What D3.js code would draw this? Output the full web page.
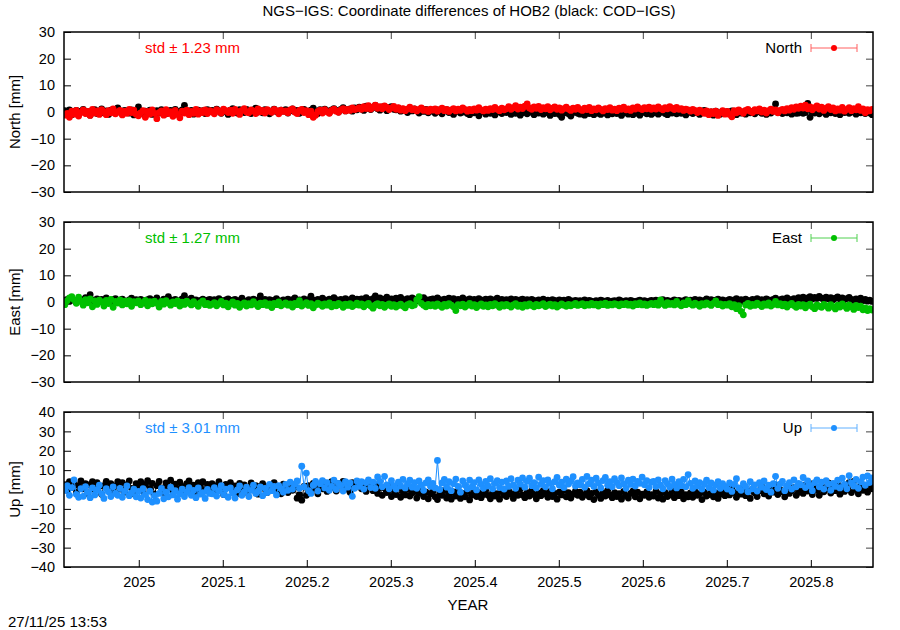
<!DOCTYPE html>
<html><head><meta charset="utf-8">
<script src="https://cdn.jsdelivr.net/npm/d3@7"></script>
<style>body{margin:0;background:#fff}svg{font-family:"Liberation Sans",Arial,sans-serif}</style>
</head><body><svg id="c" width="900" height="630"></svg>
<script>
// ---- data (daily solutions) ----
const startYear = 2024.912;
const dayStep = 1 / 365.25;
const xTicks = [2025, 2025.1, 2025.2, 2025.3, 2025.4, 2025.5, 2025.6, 2025.7, 2025.8];
const neTicks = [-30, -20, -10, 0, 10, 20, 30];
const upTicks = [-40, -30, -20, -10, 0, 10, 20, 30, 40];
const seriesNames = ["North", "East", "Up"];
const stdLabels = ["std \u00b1 1.23 mm", "std \u00b1 1.27 mm", "std \u00b1 3.01 mm"];
const yLabels = ["North [mm]", "East [mm]", "Up [mm]"];

const northCOD = [
0.5,-0.5,0.8,-1.0,0.2,0.6,-0.8,0.3, 1.0,-0.4,0.1,-1.2,0.5,0.9,-0.6,0.0, 1.2,-0.3,0.4,-0.9,0.7,0.2,-0.5,1.5, 0.3,-0.7,0.6,0.0,-0.4,0.8,-1.1,0.2,
1.9,0.4,-0.6,0.3,-0.2,0.7,-0.9,0.1, 0.5,-0.4,0.9,0.0,-0.7,0.3,0.6,-0.3, 1.0,0.2,-0.5,0.8,2.5,0.4,-0.2,0.6, -0.8,0.3,0.7,-0.1,0.5,-0.6,0.9,0.2,
0.6,-0.3,1.1,0.4,-0.5,0.8,0.2,-0.9, 0.7,1.3,0.1,-0.4,0.9,0.5,-0.2,1.0, 0.3,-0.6,0.8,1.4,0.0,0.5,-0.3,0.9, 0.6,-0.7,0.4,1.1,0.2,-0.2,0.7,0.3,
0.9,-0.4,0.5,1.2,0.1,0.6,-0.5,0.8, 1.0,0.3,-0.2,0.7,1.4,0.4,-0.6,0.9, 0.2,1.1,0.5,-0.3,0.8,1.3,0.6,0.0, 1.0,1.6,0.4,0.9,1.2,0.3,1.5,0.8,
1.8,1.1,0.6,2.2,1.4,0.9,1.7,2.5, 1.2,0.7,1.9,1.3,0.5,1.6,2.0,1.0, 0.8,1.4,0.3,1.1,0.6,-0.2,0.9,0.4, 1.2,0.5,-0.4,0.7,0.2,1.0,-0.3,0.6,
0.3,-0.5,0.8,0.1,-0.7,0.4,0.9,-0.2, 0.5,-0.9,0.2,0.6,-0.4,0.0,0.8,-0.6, -1.0,0.3,-0.3,0.5,-1.4,0.1,0.4,-0.8, 0.2,-0.5,0.7,-1.1,0.0,0.3,-0.6,0.5,
-0.2,0.4,-0.9,0.1,-0.5,0.6,-1.2,-0.3, 0.2,-0.7,0.5,-0.1,-1.0,0.3,-0.4,0.0, -0.8,0.4,-0.3,-1.3,0.1,-0.6,0.2,-0.9, -2.0,-0.4,0.3,-0.7,-1.5,-0.2,0.1,-0.5,
-0.8,-0.1,-1.2,0.2,-0.6,-0.3,-1.0,0.1, -0.5,-0.9,0.0,-0.4,-1.1,0.3,-0.7,-0.2, -0.6,0.2,-1.3,-0.4,0.1,-0.8,-0.3,-1.0, 0.0,-0.5,-1.2,-0.2,0.3,-0.7,-0.4,-0.9,
-0.3,0.2,-0.8,-0.1,0.4,-0.6,-1.0,0.0, -0.4,0.3,-0.7,0.1,-0.5,0.5,-1.1,-0.2, 0.2,-0.6,0.4,-0.3,-0.9,0.1,0.6,-0.4, -0.7,0.0,-1.2,0.3,-0.2,-0.8,0.2,-0.5,
0.1,-0.6,0.4,-0.2,-1.0,0.3,-0.4,0.0, -0.8,0.5,-0.3,0.2,-0.7,0.4,0.1,-0.5, 0.3,-0.9,0.0,-0.4,0.4,3.0,-0.2,0.2, -0.6,0.1,-0.3,0.5,-0.8,0.0,-0.5,-0.4,
0.2,-0.5,-0.2,3.2,-2.0,0.3,-0.4,0.6, -0.7,0.0,0.4,-0.9,0.2,-0.3,0.5,-0.6, 0.1,-1.0,0.3,-0.2,0.6,-0.5,0.0,0.4, -0.8,0.2,-0.3,0.5,-0.6,0.1,-0.4,-1.0];

const northNGS = [
-1.2,-0.5,-2.0,0.3,-0.8,0.6,-1.5,-0.2, 0.8,-0.6,0.2,-1.3,1.0,-0.4,0.4,-0.9, 0.9,0.1,-1.0,0.5,-0.3,1.2,-0.7,0.0, 0.6,-1.1,0.3,-0.5,1.0,-0.2,0.7,-0.8,
-1.4,-0.3,0.5,-2.0,0.2,-0.8,0.8,-0.5, -2.5,-0.2,0.4,-1.2,0.9,-0.6,0.1,-1.6, 0.6,-0.9,-2.2,0.3,-0.4,0.7,-1.0,0.2, -0.5,1.0,-0.8,0.4,-0.2,0.8,-0.6,0.5,
0.1,-0.7,0.9,0.3,-0.4,1.1,0.5,-0.2, 0.7,-0.5,1.0,0.2,-0.9,0.6,1.3,0.0, -0.3,0.8,0.4,-0.6,1.2,0.1,0.6,-0.4, 0.9,0.3,-0.1,1.0,0.5,-0.7,0.7,0.2,
0.4,-0.3,0.8,1.2,0.0,-0.6,0.6,1.0, -0.2,0.5,-1.0,0.3,-2.0,-1.2,0.2,0.7, -0.4,0.9,0.1,-0.5,0.6,1.1,0.3,-0.1, 0.8,1.3,0.4,1.0,0.6,1.5,0.9,1.2,
1.6,1.0,2.0,1.3,2.4,1.1,1.8,2.6, 1.4,2.0,1.2,2.3,1.7,0.9,1.5,2.1, 1.0,1.6,0.7,1.3,0.5,1.1,1.8,0.8, 1.2,0.4,1.0,1.5,0.6,0.9,0.2,1.1,
0.7,1.2,0.3,0.9,1.4,0.5,1.0,0.2, 0.8,1.3,0.4,1.1,0.6,1.5,0.9,0.3, 1.0,0.5,1.2,0.7,1.6,0.8,0.4,1.1, 0.6,1.3,0.9,1.7,1.0,0.5,1.4,0.8,
1.2,2.0,1.0,1.6,2.4,1.1,1.8,1.3, 2.2,3.0,1.5,1.0,1.9,1.4,2.1,0.9, 1.6,1.2,2.0,0.8,1.4,1.9,1.0,1.5, 0.7,1.3,1.8,1.1,0.6,1.4,1.0,1.7,
1.0,0.6,1.4,0.9,1.7,0.5,1.2,0.8, 1.5,1.0,0.4,1.3,0.9,1.6,0.7,1.1, 0.5,1.4,1.0,1.8,0.8,1.2,0.6,1.5, 1.1,1.9,1.3,0.9,1.6,1.2,1.8,1.0,
1.5,1.1,1.9,1.3,0.8,1.6,1.2,2.0, 1.4,0.9,1.7,1.0,1.3,0.6,1.1,0.8, 0.3,1.0,0.5,-0.2,0.7,0.2,-0.5,0.4, -1.0,0.1,-0.6,0.3,-1.3,-0.2,0.5,-0.8,
0.2,-0.9,-1.8,0.5,-0.3,0.8,0.1,-0.5, 0.6,1.0,0.3,-0.2,0.9,0.4,1.2,0.0, 0.7,-0.4,0.5,1.1,0.2,0.8,-0.3,0.6, 1.0,0.4,1.3,0.7,1.6,1.0,1.9,1.4,
2.2,1.5,2.6,1.2,1.9,0.8,1.6,2.3, 1.1,1.8,0.6,1.4,2.0,0.9,1.5,0.4, 1.2,0.7,1.7,0.3,1.0,1.6,0.5,1.3, 0.8,2.0,0.6,1.2,-0.3,0.9,0.4,1.0];

const eastCOD = [
0.5,1.0,0.2,1.4,0.7,-0.2,1.1,0.4, 0.9,1.6,0.3,2.8,0.8,0.1,1.2,0.5, 1.0,0.3,1.5,0.6,-0.3,0.9,1.3,0.2, 0.7,1.1,0.4,-0.1,0.8,1.4,0.5,0.9,
0.3,1.0,0.6,-0.4,0.9,1.3,0.2,0.7, 1.5,0.4,0.0,1.1,0.6,2.0,0.8,0.3, 1.0,-0.2,0.5,1.2,2.4,0.1,0.9,1.4, 0.4,0.8,-0.3,0.6,1.1,0.2,0.7,1.0,
0.5,0.9,0.1,1.3,0.6,-0.5,0.8,1.2, 0.3,0.7,1.0,0.0,0.6,1.4,0.4,-0.2, 0.9,0.5,1.1,0.2,0.8,2.3,0.6,1.0, 0.3,0.9,0.1,0.7,1.3,0.5,0.0,0.8,
0.6,1.1,0.2,0.9,1.5,0.4,0.8,0.1, 1.2,0.5,0.9,2.2,0.7,0.3,1.0,0.6, 1.4,0.8,0.2,1.1,0.5,1.6,0.9,0.4, 1.0,0.6,1.3,0.3,0.9,1.5,0.7,1.1,
0.8,1.2,0.5,1.6,1.0,0.4,1.3,2.3, 0.9,1.5,0.6,1.1,1.8,0.7,1.2,0.5, 1.4,0.9,1.7,1.0,0.6,1.3,0.8,1.5, 1.1,0.5,1.2,0.8,1.6,0.9,0.4,1.0,
1.2,0.7,1.5,0.9,0.4,1.1,0.6,1.4, 0.8,1.3,0.5,1.0,0.7,1.5,0.9,0.3, 1.2,0.6,1.0,0.4,1.3,0.8,0.5,1.1, 0.7,1.2,0.3,0.9,1.4,0.6,1.0,0.5,
0.9,0.4,1.2,0.6,1.0,0.2,0.8,1.1, 0.5,0.9,0.3,1.0,0.6,0.1,0.8,0.4, 1.1,0.5,0.7,0.2,0.9,0.6,0.0,0.8, 0.4,0.7,0.3,1.0,0.5,-0.1,0.6,0.3,
0.5,0.2,0.8,0.0,0.6,0.3,-0.2,0.5, 0.1,0.7,0.4,0.0,0.6,-0.1,0.3,0.5, 0.2,0.8,0.4,-0.2,0.5,0.1,0.6,0.3, 0.0,0.4,0.7,0.2,0.5,-0.1,0.3,0.6,
0.3,0.7,0.1,0.5,0.9,0.2,0.6,-0.1, 0.4,0.8,0.3,0.6,0.0,0.5,0.9,0.2, 0.7,0.3,1.0,0.4,0.8,0.1,0.6,1.2, 0.5,0.9,0.3,0.7,1.1,0.4,0.8,0.2,
0.6,1.0,0.3,0.8,1.3,0.5,0.9,0.2, 1.1,0.6,0.4,1.0,0.7,1.3,0.5,0.9, 0.3,1.2,0.8,0.5,1.0,1.4,0.6,0.9, 1.2,0.7,1.5,1.0,0.6,1.3,0.9,1.6,
1.2,1.8,0.9,1.5,2.0,1.1,1.7,1.3, 2.1,1.4,1.0,1.8,1.2,1.6,0.8,1.4, 1.9,1.1,1.5,0.9,1.3,1.7,1.0,0.6, 1.2,0.8,1.4,0.5,1.0,0.3,0.7,0.2];

const eastNGS = [
-1.0,0.5,1.5,2.0,0.8,-0.5,1.8,0.3, -1.2,0.9,-0.3,1.2,-1.8,0.4,-0.9,0.7, 0.0,-1.5,0.6,-0.6,1.0,-2.0,0.2,-0.4, 0.8,-1.1,0.3,-0.7,0.5,-1.6,0.1,-0.3,
0.4,-1.0,-0.2,0.6,-1.4,0.1,-0.7,0.3, -0.5,-1.9,0.2,-0.8,0.5,-0.3,-1.2,0.0, -0.6,0.4,-1.5,-0.1,-0.9,0.3,-0.4,-1.1, 0.1,-0.7,-1.6,-0.2,0.4,-1.0,-0.5,-1.3,
-0.8,-0.2,-1.4,-0.6,0.2,-1.1,-0.4,-1.8, -0.7,0.0,-1.2,-0.5,-2.0,-0.9,-0.3,-1.5, -0.6,-1.1,0.1,-0.8,-1.7,-0.4,-1.0,-0.2, -1.3,-0.7,-2.1,-0.5,-1.0,0.0,-1.4,-0.8,
-0.3,-1.2,-0.7,-1.9,-0.5,-1.0,0.5,-1.5, -0.8,-0.2,-1.3,-0.6,-2.2,-1.1,-0.4,-0.9, -1.6,-0.7,-1.2,-0.3,-1.8,-0.9,-1.4,-0.5, -1.0,-2.0,-0.8,-1.3,-0.6,-1.7,-1.1,-0.4,
-1.2,-0.7,-1.8,-1.0,-0.5,-1.5,-2.3,-1.1, -0.6,-1.4,-0.9,-2.0,-1.2,-0.7,-1.6,-1.0, -1.9,-1.3,-0.8,-1.5,-2.2,-1.0,-0.6,-1.4, -1.1,0.8,2.0,-0.5,-1.2,-1.8,-0.9,-1.4,
-1.0,-1.6,-0.7,-1.3,-2.0,-0.9,-1.5,-0.6, -1.2,-1.8,-3.2,-1.0,-1.4,-0.8,-1.9,-1.2, -0.5,-1.5,-1.0,-2.1,-1.3,-0.7,-1.6,-1.1, -1.8,-0.9,-1.4,-0.6,-1.2,-2.0,-1.0,-1.5,
-0.9,-1.4,-1.9,-1.1,-0.6,-1.6,-1.2,-2.0, -1.0,-1.5,-0.7,-1.3,-1.8,-0.9,-1.4,-1.1, -0.6,-1.7,-1.2,-0.8,-1.5,-1.0,-1.9,-1.3, -0.7,-1.2,-1.6,-0.9,-1.4,-1.0,-0.5,-1.3,
-1.0,-0.6,-1.4,-0.9,-1.2,-0.5,-1.1,-0.8, -1.5,-0.7,-1.0,-0.4,-1.3,-0.8,-1.1,-0.6, -0.9,-1.4,-0.7,-1.0,-0.5,-1.2,-0.8,-1.5, -0.6,-1.0,-0.3,-1.1,-0.7,-1.3,-0.9,-0.5,
-1.0,-0.4,-1.2,0.8,-0.6,-1.3,-0.2,-0.9, -0.5,-1.1,0.2,-0.8,-1.4,-0.3,-1.0,0.5, -0.7,-1.2,-0.4,-0.9,-1.6,-0.6,-1.1,-0.3, -0.8,-1.3,-0.5,0.4,-1.0,-0.7,-1.5,-0.9,
-1.2,-0.6,-1.8,-1.0,-2.5,-1.4,-3.5,-4.8, -1.1,-0.5,-1.6,-0.9,-1.3,-0.4,-1.0,-1.7, -0.7,-1.2,-0.3,-1.5,-0.9,0.2,-1.1,-0.6, -1.4,-0.8,-1.9,-1.0,-0.5,-1.3,-2.0,-0.9,
-1.5,-1.0,-2.2,-1.3,-0.8,-1.8,-2.5,-1.1, -1.6,-2.0,-0.9,-1.4,-2.3,-1.0,-1.7,-2.6, -1.2,-1.9,-0.7,-1.5,-2.4,-1.1,-1.8,-2.8, -1.3,-2.1,-1.6,-2.9,-2.2,-3.2,-2.5,-3.0];

const upCOD = [
2.5,-0.5,4.0,1.0,3.5,-1.5,2.0,4.5, 0.5,3.0,-2.0,2.5,4.0,0.0,3.5,1.5, -2.5,2.0,4.2,0.8,3.0,-1.0,1.8,4.0, 0.2,3.6,-1.4,2.4,4.4,0.6,-2.2,3.0,
1.0,4.0,-1.0,2.6,4.6,0.4,3.2,-2.4, 2.0,4.2,0.8,-1.6,3.4,1.2,4.8,-0.6, 2.8,0.0,3.8,1.6,-2.0,3.0,4.4,0.6, 2.2,-1.2,3.6,1.0,4.0,-0.4,2.6,1.4,
3.0,-1.0,2.0,4.0,0.0,-2.6,2.6,1.0, 3.6,-0.8,1.8,-2.0,3.2,0.4,2.4,-1.4, 1.2,3.4,-0.2,2.0,-2.4,1.6,3.0,0.2, -1.6,2.2,0.6,3.6,-0.6,1.4,-2.2,2.8,
0.8,-1.6,2.4,-0.4,1.2,-4.5,-2.6,-5.5, 1.6,-3.0,2.0,-1.2,3.2,0.6,-2.2,2.6, 0.4,3.4,-1.0,2.4,4.0,1.0,-0.8,3.0, 1.8,4.2,0.2,2.6,-1.4,3.6,1.2,2.0,
3.0,0.4,2.2,-1.0,3.6,1.4,-0.6,2.4, -2.0,1.0,-3.0,0.6,-1.6,2.0,-3.6,-0.4, -2.6,0.8,-4.0,-1.2,-2.8,0.2,-3.4,-1.8, -0.6,-4.4,-2.0,-0.8,-3.6,-1.4,-4.8,-2.2,
-1.0,-3.8,-5.2,-1.8,-3.0,-0.4,-4.4,-2.4, -5.0,-1.2,-3.4,-0.8,-4.6,-2.0,-3.8,-1.0, -5.4,-2.8,-0.6,-3.6,-1.6,-4.2,-2.6,-0.2, -3.0,-4.8,-1.4,-3.4,-2.2,-5.0,-1.0,-2.8,
-3.6,-0.8,-2.4,-4.6,-1.2,-3.0,0.2,-2.8, -4.2,-1.6,-3.4,-0.4,-2.6,-4.8,-1.8,-3.2, -0.6,-2.2,-4.0,-1.0,-3.6,-2.0,-5.0,-1.4, -2.8,-0.2,-3.8,-1.6,-4.4,-2.4,-0.8,-3.0,
-1.4,-4.0,-2.6,-0.6,-3.8,-2.0,-5.2,-1.2, -3.0,-4.6,-1.8,-3.4,-0.4,-2.8,-4.2,-1.6, -3.6,-2.2,-5.0,-1.0,-3.2,-4.4,-2.0,-0.8, -3.8,-1.4,-4.8,-2.4,-3.0,-1.2,-4.0,-2.6,
-3.4,-1.0,-4.4,-2.2,-5.0,-1.6,-3.6,-2.8, -0.6,-4.2,-2.0,-3.2,-1.2,-4.8,-2.6,-3.8, -1.8,-4.0,-0.8,-3.0,-2.2,-5.2,-1.4,-3.4, -2.6,-0.4,-3.8,-1.8,-4.6,-2.4,-1.0,-3.2,
-0.2,-2.8,1.2,-1.6,-4.0,-0.4,-2.4,0.8, -3.2,-1.0,-4.6,0.2,-1.8,-3.6,-0.6,1.6, -2.2,-0.8,-3.4,0.6,-1.4,2.4,-2.6,-0.2, -1.2,-3.8,0.4,-2.0,-0.6,1.0,-3.0,-1.4,
0.6,-2.0,2.2,-0.8,3.0,-2.6,1.2,-0.4, -3.0,1.8,-1.2,0.4,3.4,-1.8,0.8,-0.6, 2.6,-2.4,1.4,-1.0,0.2,3.6,-1.6,4.2, 0.0,-2.2,2.0,-0.4,1.0,-1.4,2.8,0.4];

const upNGS = [
-0.5,2.0,-3.0,1.0,5.0,-2.5,-4.0,0.5, -3.5,1.5,-1.5,-4.2,0.8,-2.8,-0.2,2.2, -2.2,-4.6,0.4,-1.2,-3.6,1.4,-2.0,-3.0, 0.6,-4.0,-1.0,1.8,-3.2,-1.8,0.2,-3.8,
-1.0,-4.4,0.4,-2.6,-5.2,-0.8,-6.5,-3.2, -6.0,-2.0,0.6,-4.8,-1.4,-3.8,1.2,-2.8, -0.6,-5.0,-2.2,0.2,-3.6,-1.2,1.0,-3.0, -0.4,-4.2,0.8,-2.4,-1.6,-4.6,0.0,-2.0,
-2.2,1.0,-3.4,-0.6,2.0,-2.6,0.2,-4.0, 0.8,-1.8,-4.4,-0.2,1.8,-3.0,-1.2,1.2, -3.6,-0.4,2.2,-2.0,-0.8,1.4,-3.2,0.6, -1.6,2.6,-0.6,1.6,-2.8,2.0,0.4,-1.4,
2.6,-0.4,3.8,0.2,2.8,4.4,0.6,12.0, 1.4,8.5,-0.6,-2.0,2.2,4.2,-0.8,3.0, 4.6,0.8,3.6,-0.4,1.6,4.8,0.0,3.2, 2.0,-0.8,4.0,1.2,3.4,-3.5,0.6,4.4,
1.6,4.0,0.2,3.6,5.0,1.0,3.8,0.6, 6.5,4.2,1.4,6.8,2.4,0.4,4.6,2.0, 0.2,3.8,1.8,5.2,0.8,3.0,4.8,1.2, 3.6,0.6,4.4,2.2,-0.4,3.4,5.0,1.6,
3.2,0.8,15.0,0.0,3.4,5.2,1.2,4.0, -0.6,3.0,5.4,1.6,-1.4,4.4,2.2,0.4, 4.8,1.4,3.6,-0.2,5.0,2.6,0.6,4.2, 1.8,5.6,0.4,3.2,4.6,1.0,3.8,0.2,
4.4,1.6,5.6,2.4,0.6,4.8,2.8,6.0, 1.2,4.2,5.8,2.0,3.6,0.8,6.4,2.6, 4.6,1.4,5.0,3.2,0.4,4.0,6.2,2.2, 3.8,1.0,5.4,2.8,4.4,6.6,1.8,3.4,
2.4,5.2,1.2,6.8,3.0,4.8,1.6,5.8, 3.4,0.8,4.6,6.2,2.2,4.0,1.4,5.6, 3.6,2.0,6.0,3.0,0.6,4.8,2.6,5.4, 1.8,4.2,3.2,6.4,2.4,4.6,1.0,3.8,
4.2,1.6,5.0,2.2,0.4,4.6,3.0,1.2, 5.4,2.6,0.8,4.0,2.0,5.2,1.4,7.7, 3.2,0.6,4.4,1.8,3.6,0.2,2.8,4.8, 1.0,3.4,-0.2,2.4,4.0,0.6,3.0,1.6,
0.2,3.4,-1.0,2.6,5.6,0.8,-0.4,3.0, 1.6,-1.2,4.0,0.4,2.4,-0.8,3.6,1.2, 4.4,0.0,2.2,-1.4,3.0,6.8,0.6,2.8, 4.2,-0.6,1.8,3.6,0.2,5.0,1.4,3.2,
2.4,6.2,1.0,4.4,2.0,-0.6,3.6,5.0, 1.4,3.8,0.2,4.6,2.8,-0.4,3.2,1.6, 4.8,0.8,5.8,2.6,0.4,7.2,3.4,1.8, 5.2,0.6,4.0,6.4,2.2,7.0,3.6,6.0];

// ---- layout ----
const left = 64, right = 873;
const panelBoxes = [{top: 32, bottom: 192}, {top: 222, bottom: 382}, {top: 412, bottom: 567}];
const colors = ["#ff0000", "#00c000", "#1e90ff"];
const legendLineColors = ["#ff6060", "#50d050", "#60b0ff"];
const codSets = [northCOD, eastCOD, upCOD];
const ngsSets = [northNGS, eastNGS, upNGS];
const tickSets = [neTicks, neTicks, upTicks];
const FONT = '"Liberation Sans",Arial,sans-serif';
const TXT = 15, TICK = 14.5;
const minus = s => String(s).replace("-", "\u2212");

const svg = d3.select("#c");
const x = d3.scaleLinear().domain([2024.911, 2025.874]).range([left, right]);
const toPts = arr => arr.map((v, i) => ({t: startYear + i * dayStep, v}));

svg.append("text").attr("x", 469).attr("y", 16).attr("text-anchor", "middle")
  .attr("font-size", TXT).text("NGS\u2212IGS: Coordinate differences of HOB2 (black: COD\u2212IGS)");

panelBoxes.forEach((box, p) => {
  const ticks = tickSets[p];
  const y = d3.scaleLinear().domain([ticks[0], ticks[ticks.length - 1]]).range([box.bottom, box.top]);
  const g = svg.append("g");
  const clipId = "clip" + p;
  svg.append("clipPath").attr("id", clipId).append("rect")
    .attr("x", left).attr("y", box.top).attr("width", right - left).attr("height", box.bottom - box.top);

  const yAx = d3.axisLeft(y).tickValues(ticks).tickSize(-7).tickPadding(9).tickFormat(minus);
  const ya = g.append("g").attr("transform", `translate(${left},0)`).call(yAx);
  ya.select(".domain").remove();
  ya.selectAll("line").attr("stroke", "#000");
  ya.selectAll("text").attr("font-size", TICK).attr("fill", "#000").attr("font-family", FONT);
  const yra = g.append("g").attr("transform", `translate(${right},0)`)
    .call(d3.axisRight(y).tickValues(ticks).tickSize(-7).tickFormat(""));
  yra.select(".domain").remove();
  yra.selectAll("line").attr("stroke", "#444");

  const xb = g.append("g").attr("transform", `translate(0,${box.bottom})`)
    .call(d3.axisBottom(x).tickValues(xTicks).tickSize(-7).tickPadding(10)
      .tickFormat(p === 2 ? d => String(d) : ""));
  xb.select(".domain").remove();
  xb.selectAll("line").attr("stroke", "#000");
  xb.selectAll("text").attr("font-size", TICK).attr("fill", "#000").attr("font-family", FONT);
  const xt = g.append("g").attr("transform", `translate(0,${box.top})`)
    .call(d3.axisTop(x).tickValues(xTicks).tickSize(-7).tickFormat(""));
  xt.select(".domain").remove();
  xt.selectAll("line").attr("stroke", "#444");

  const line = d3.line().x(d => x(d.t)).y(d => y(d.v));
  const dg = g.append("g").attr("clip-path", `url(#${clipId})`);
  const drawSeries = (arr, col) => {
    const pts = toPts(arr);
    dg.append("path").datum(pts).attr("d", line).attr("fill", "none").attr("stroke", col).attr("stroke-width", 1);
    dg.append("g").selectAll("circle").data(pts).join("circle")
      .attr("cx", d => x(d.t)).attr("cy", d => y(d.v)).attr("r", 3.4).attr("fill", col);
  };
  drawSeries(codSets[p], "#000");
  drawSeries(ngsSets[p], colors[p]);

  g.append("rect").attr("x", left).attr("y", box.top).attr("width", right - left).attr("height", box.bottom - box.top)
    .attr("fill", "none").attr("stroke", "#000").attr("stroke-width", 1.5);

  g.append("text").attr("x", 145).attr("y", box.top + 21).attr("font-size", TXT).attr("fill", colors[p]).text(stdLabels[p]);

  const ly = box.top + 16;
  g.append("text").attr("x", 802).attr("y", box.top + 21).attr("text-anchor", "end").attr("font-size", TXT).text(seriesNames[p]);
  const lg = g.append("g").attr("stroke", legendLineColors[p]).attr("stroke-width", 1);
  lg.append("line").attr("x1", 811).attr("x2", 857).attr("y1", ly).attr("y2", ly);
  lg.append("line").attr("x1", 811).attr("x2", 811).attr("y1", ly - 4).attr("y2", ly + 4);
  lg.append("line").attr("x1", 857).attr("x2", 857).attr("y1", ly - 4).attr("y2", ly + 4);
  g.append("circle").attr("cx", 834).attr("cy", ly).attr("r", 3).attr("fill", colors[p]);

  const cy = (box.top + box.bottom) / 2;
  g.append("text").attr("transform", `translate(20,${cy}) rotate(-90)`).attr("text-anchor", "middle")
    .attr("font-size", TXT).text(yLabels[p]);
});

svg.append("text").attr("x", 468).attr("y", 610).attr("text-anchor", "middle").attr("font-size", TXT).text("YEAR");
svg.append("text").attr("x", 8).attr("y", 627).attr("font-size", TXT).text("27/11/25 13:53");
</script>
</body></html>
